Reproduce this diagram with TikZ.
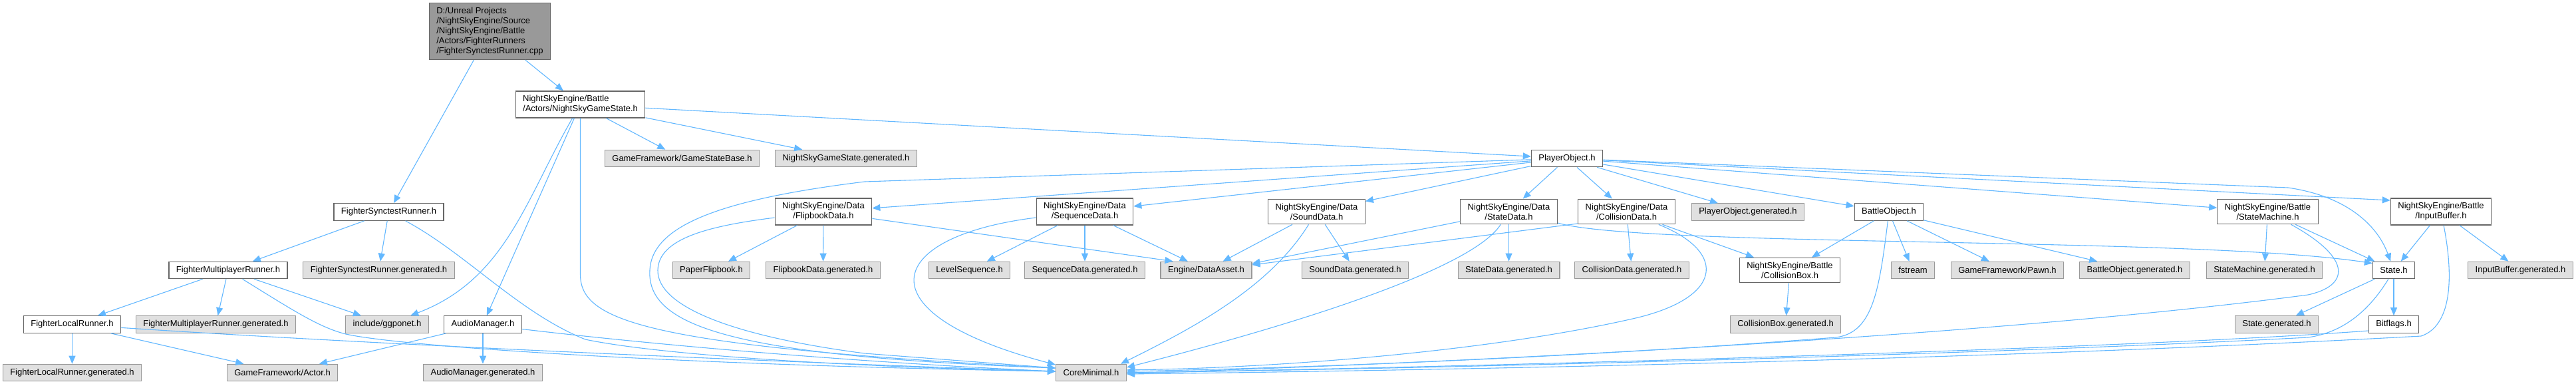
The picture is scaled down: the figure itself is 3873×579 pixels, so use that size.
\documentclass[tikz,border=0pt]{standalone}
\usepackage{fontspec}
\setmainfont{Liberation Sans}
\usepackage{tikz}
\usetikzlibrary{arrows.meta, positioning}
\definecolor{depblue}{HTML}{63B8FF}
\definecolor{extgray}{HTML}{E0E0E0}
\definecolor{extline}{HTML}{999999}
\definecolor{docline}{HTML}{666666}
\definecolor{rootgray}{HTML}{999999}

\begin{document}
\begin{tikzpicture}[
    x=1pt, y=-1pt,
    box/.style={draw=docline, fill=white, line width=1.2pt, inner xsep=11pt,
                inner ysep=6.5pt, minimum height=25.5pt, align=center,
                font=\fontsize{13}{15}\selectfont},
    extbox/.style={box, draw=extline, fill=extgray},
    rootbox/.style={box, fill=rootgray, align=left},
    dep/.style={->, draw=depblue, line width=1.1pt},
    >={Triangle[length=12pt, width=10pt]}
  ]
    \path[fill=white, use as bounding box] (0,0) rectangle (3873,579);

    \node[rootbox] (root) at (736.5,47)
      {D:/Unreal Projects\\/NightSkyEngine/Source\\/NightSkyEngine/Battle\\/Actors/FighterRunners\\/FighterSynctestRunner.cpp};
    \node[box, align=left] (gamestate) at (872.5,157) {NightSkyEngine/Battle\\/Actors/NightSkyGameState.h};
    \node[box] (synctest) at (584.5,318.5) {FighterSynctestRunner.h};
    \node[box] (multi) at (343,406) {FighterMultiplayerRunner.h};
    \node[extbox] (syncgen) at (569.5,406) {FighterSynctestRunner.generated.h};
    \node[box] (local) at (108.5,487.5) {FighterLocalRunner.h};
    \node[extbox] (multigen) at (324.5,487.5) {FighterMultiplayerRunner.generated.h};
    \node[extbox] (ggpo) at (582,487.5) {include/ggponet.h};
    \node[box] (audio) at (726,487.5) {AudioManager.h};
    \node[extbox] (localgen) at (108.5,560) {FighterLocalRunner.generated.h};
    \node[extbox] (actor) at (424.5,560) {GameFramework/Actor.h};
    \node[extbox] (audiogen) at (726,560) {AudioManager.generated.h};
    \node[extbox] (core) at (1640.5,560) {CoreMinimal.h};
    \node[extbox] (statebase) at (1025.5,238) {GameFramework/GameStateBase.h};
    \node[extbox] (gsgen) at (1272,238) {NightSkyGameState.generated.h};
    \node[box] (player) at (2356,238) {PlayerObject.h};
    \node[box] (flip) at (1238,318) {NightSkyEngine/Data\\/FlipbookData.h};
    \node[extbox] (paper) at (1069.5,406) {PaperFlipbook.h};
    \node[extbox] (flipgen) at (1237.5,406) {FlipbookData.generated.h};
    \node[box] (seq) at (1631,318) {NightSkyEngine/Data\\/SequenceData.h};
    \node[extbox] (levelseq) at (1457.5,406) {LevelSequence.h};
    \node[extbox] (seqgen) at (1631,406) {SequenceData.generated.h};
    \node[extbox] (asset) at (1813.5,406) {Engine/DataAsset.h};
    \node[box] (sound) at (1979.5,318) {NightSkyEngine/Data\\/SoundData.h};
    \node[extbox] (soundgen) at (2037.5,406) {SoundData.generated.h};
    \node[box] (sdata) at (2268.5,318) {NightSkyEngine/Data\\/StateData.h};
    \node[extbox] (sdatagen) at (2268.5,406) {StateData.generated.h};
    \node[box] (coll) at (2445.5,318) {NightSkyEngine/Data\\/CollisionData.h};
    \node[extbox] (collgen) at (2453.5,406) {CollisionData.generated.h};
    \node[extbox] (pogen) at (2628,318.5) {PlayerObject.generated.h};
    \node[box] (battle) at (2840,318.5) {BattleObject.h};
    \node[box] (cbox) at (2691,406) {NightSkyEngine/Battle\\/CollisionBox.h};
    \node[extbox] (cboxgen) at (2684.5,487.5) {CollisionBox.generated.h};
    \node[extbox] (fstream) at (2876,406) {fstream};
    \node[extbox] (pawn) at (3018,406) {GameFramework/Pawn.h};
    \node[extbox] (battlegen) at (3209.5,406) {BattleObject.generated.h};
    \node[box] (smach) at (3409.5,318) {NightSkyEngine/Battle\\/StateMachine.h};
    \node[extbox] (smachgen) at (3404.5,406) {StateMachine.generated.h};
    \node[box] (input) at (3670,318) {NightSkyEngine/Battle\\/InputBuffer.h};
    \node[extbox] (inputgen) at (3789.5,406) {InputBuffer.generated.h};
    \node[box] (state) at (3599,406) {State.h};
    \node[extbox] (stategen) at (3423,487.5) {State.generated.h};
    \node[box] (bitflags) at (3599,487.5) {Bitflags.h};

    \draw[dep] (root) -- (synctest);
    \draw[dep] (root) -- (gamestate);
    \draw[dep] (synctest) -- (multi);
    \draw[dep] (synctest) -- (syncgen);
    \draw[dep] (synctest) .. controls (700,380) and (780,470) .. (880,510)
      .. controls (1000,535) and (1300,552) .. ([yshift=2pt]core.west);
    \draw[dep] (multi) -- (local);
    \draw[dep] (multi) -- (multigen);
    \draw[dep] (multi) -- (ggpo);
    \draw[dep] (multi) .. controls (440,466) and (480,492) .. (520,502)
      .. controls (600,520) and (1000,548) .. ([yshift=2pt]core.west);
    \draw[dep] (local) -- (localgen);
    \draw[dep] (local) -- (actor);
    \draw[dep] (local) .. controls (600,520) and (1200,545) .. ([yshift=2pt]core.west);
    \draw[dep] (audio) -- (actor);
    \draw[dep] (audio) -- (audiogen);
    \draw[dep] (audio) .. controls (1000,520) and (1300,545) .. ([yshift=2pt]core.west);

    \draw[dep] (gamestate) -- (statebase);
    \draw[dep] (gamestate) -- (gsgen);
    \draw[dep] (gamestate) -- (player);
    \draw[dep] (gamestate) .. controls (790,300) and (760,420) .. (ggpo);
    \draw[dep] (gamestate) -- (audio);
    \draw[dep] (gamestate.south) -- (872.5,412) .. controls (872.5,480) and (960,520)
      .. ([yshift=7pt]core.west);

    \draw[dep] (player) -- (flip);
    \draw[dep] (player) -- (seq);
    \draw[dep] (player) -- (sound);
    \draw[dep] (player) -- (sdata);
    \draw[dep] (player) -- (coll);
    \draw[dep] (player) -- (pogen);
    \draw[dep] (player) -- (battle);
    \draw[dep] (player) -- (smach);
    \draw[dep] (player) -- ([yshift=17pt]input.west);
    \draw[dep] (player) -- (3440,282) .. controls (3530,295) and (3575,340) .. (state);
    \draw[dep] (player) -- (1300,273) .. controls (1080,300) and (980,340) .. (977,406)
      .. controls (972,490) and (1100,535) .. ([yshift=7pt]core.west);

    \draw[dep] (flip) -- (paper);
    \draw[dep] (flip) -- (flipgen);
    \draw[dep] (flip) -- ([xshift=-50pt]asset.north);
    \draw[dep] (flip) .. controls (1060,340) and (990,360) .. (989,406)
      .. controls (988,460) and (1100,505) .. (1300,531) -- ([yshift=7pt]core.west);
    \draw[dep] (seq) -- (levelseq);
    \draw[dep] (seq) -- (seqgen);
    \draw[dep] (seq) -- (asset);
    \draw[dep] (seq) .. controls (1330,355) and (1290,470) .. ([yshift=12pt]core.west);
    \draw[dep] (sound) -- (soundgen);
    \draw[dep] (sound) -- (asset);
    \draw[dep] (sound) .. controls (1910,430) and (1800,490) .. ([xshift=-9pt]core.north east);
    \draw[dep] (sdata) -- (sdatagen);
    \draw[dep] (sdata) -- ([yshift=10pt]asset.east);
    \draw[dep] (sdata) .. controls (2210,410) and (1900,500) .. ([yshift=8pt]core.east);
    \draw[dep] ([yshift=-17pt]sdata.east) .. controls (2470,372) and (3300,355)
      .. ([yshift=-3pt]state.north west);
    \draw[dep] (coll) -- (collgen);
    \draw[dep] (coll) -- (cbox);
    \draw[dep] ([yshift=-18pt]coll.west) -- ([yshift=8pt]asset.east);
    \draw[dep] (coll) .. controls (2600,380) and (2590,450) .. (2450,480)
      .. controls (2250,525) and (1950,552) .. ([yshift=4pt]core.east);

    \draw[dep] (battle) -- (cbox);
    \draw[dep] (battle) -- (fstream);
    \draw[dep] (battle) -- (pawn);
    \draw[dep] (battle) -- (battlegen);
    \draw[dep] (battle) .. controls (2825,440) and (2815,500) .. (2760,507)
      .. controls (2400,535) and (2000,552) .. ([yshift=2pt]core.east);
    \draw[dep] (cbox) -- (cboxgen);
    \draw[dep] (smach) -- (smachgen);
    \draw[dep] (smach) -- (state);
    \draw[dep] (smach) .. controls (3540,390) and (3530,430) .. (3470,443)
      .. controls (3000,505) and (2200,545) .. ([yshift=-1pt]core.east);
    \draw[dep] (input) -- (state);
    \draw[dep] (input) -- (inputgen);
    \draw[dep] (input) .. controls (3690,420) and (3685,490) .. (3640,505)
      .. controls (3000,540) and (2200,556) .. ([yshift=-2pt]core.east);
    \draw[dep] (state) -- (stategen);
    \draw[dep] (state) -- (bitflags);
    \draw[dep] (state) .. controls (3560,470) and (3520,500) .. (3470,507)
      .. controls (3000,532) and (2200,553) .. (core.east);
    \draw[dep] ([yshift=-9.5pt]bitflags.west) .. controls (3200,524) and (2200,552) .. (core.east);
  \end{tikzpicture}
\end{document}
